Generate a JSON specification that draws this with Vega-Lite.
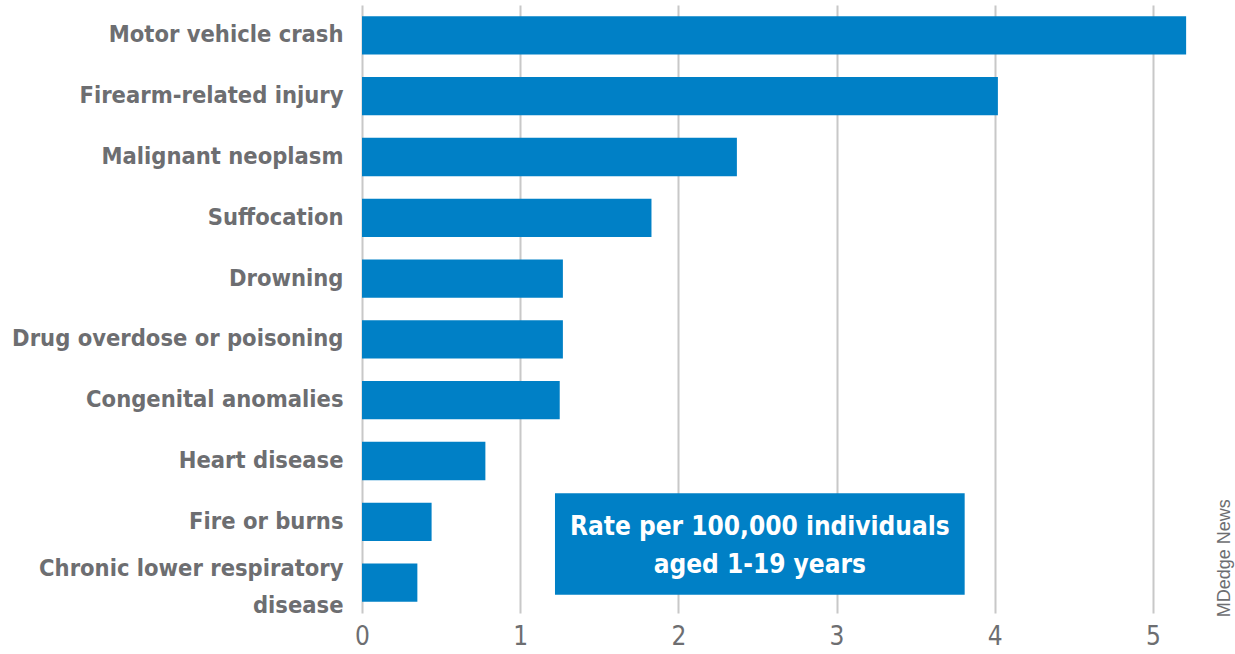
{
  "$schema": "https://vega.github.io/schema/vega-lite/v6.json",
  "autosize": {"type": "none"},
  "padding": {"left": 362, "top": 5, "right": 3, "bottom": 41},
  "width": 870,
  "height": 608,
  "background": "white",
  "config": {
    "view": {"stroke": null},
    "font": "DejaVu Sans Condensed"
  },
  "datasets": {
    "bars": [
      {"cause": "Motor vehicle crash", "rate": 5.21},
      {"cause": "Firearm-related injury", "rate": 4.02},
      {"cause": "Malignant neoplasm", "rate": 2.37},
      {"cause": "Suffocation", "rate": 1.83},
      {"cause": "Drowning", "rate": 1.27},
      {"cause": "Drug overdose or poisoning", "rate": 1.27},
      {"cause": "Congenital anomalies", "rate": 1.25},
      {"cause": "Heart disease", "rate": 0.78},
      {"cause": "Fire or burns", "rate": 0.44},
      {"cause": "Chronic lower respiratory disease", "rate": 0.35}
    ],
    "box": [
      {"x1": 1.22, "x2": 3.81, "y1": 8.03, "y2": 9.7, "xc": 2.515, "yc": 8.59, "label": "Rate per 100,000 individuals\naged 1-19 years"}
    ],
    "credit": [
      {"x": 5.455, "y": 9.1, "label": "MDedge News"}
    ]
  },
  "layer": [
    {
      "data": {"name": "bars"},
      "mark": {"type": "bar", "color": "#0080c6"},
      "encoding": {
        "y": {
          "field": "cause", "type": "nominal", "sort": null,
          "scale": {"paddingInner": 0.37, "paddingOuter": 0.185},
          "axis": {
            "title": null, "ticks": false, "domain": false,
            "labelFontSize": 23.5, "labelColor": "#6d6e71", "labelFontWeight": "bold",
            "labelPadding": 19, "labelLimit": 400, "labelLineHeight": 37,
            "labelExpr": "datum.value == 'Chronic lower respiratory disease' ? ['Chronic lower respiratory', 'disease'] : datum.value",
            "labelOffset": {"condition": {"test": "datum.value == 'Chronic lower respiratory disease'", "value": -14}, "value": 0}
          }
        },
        "x": {
          "field": "rate", "type": "quantitative",
          "scale": {"domain": [0, 5.5], "nice": false},
          "axis": {
            "title": null, "values": [0, 1, 2, 3, 4, 5], "format": "d", "ticks": false, "domain": false,
            "grid": true, "gridColor": "#c8c8c8", "gridWidth": 2,
            "labelFontSize": 26, "labelColor": "#6d6e71", "labelPadding": 10,
            "labelFlush": false
          }
        }
      }
    },
    {
      "data": {"name": "box"},
      "mark": {"type": "rect", "color": "#0080c6"},
      "encoding": {
        "x": {"field": "x1", "type": "quantitative"},
        "x2": {"field": "x2"},
        "y": {"field": "y1", "type": "quantitative", "scale": {"domain": [0, 10], "reverse": true}, "axis": null},
        "y2": {"field": "y2"}
      }
    },
    {
      "data": {"name": "box"},
      "mark": {"type": "text", "color": "white", "fontSize": 26, "fontWeight": "bold", "lineBreak": "\n", "lineHeight": 38, "align": "center", "baseline": "middle"},
      "encoding": {
        "x": {"field": "xc", "type": "quantitative"},
        "y": {"field": "yc", "type": "quantitative", "scale": {"domain": [0, 10], "reverse": true}, "axis": null},
        "text": {"field": "label"}
      }
    },
    {
      "data": {"name": "credit"},
      "mark": {"type": "text", "color": "#6d6e71", "fontSize": 18, "font": "Liberation Sans", "angle": 270, "align": "center", "baseline": "middle"},
      "encoding": {
        "x": {"field": "x", "type": "quantitative"},
        "y": {"field": "y", "type": "quantitative", "scale": {"domain": [0, 10], "reverse": true}, "axis": null},
        "text": {"field": "label"}
      }
    }
  ],
  "resolve": {"scale": {"y": "independent"}}
}
